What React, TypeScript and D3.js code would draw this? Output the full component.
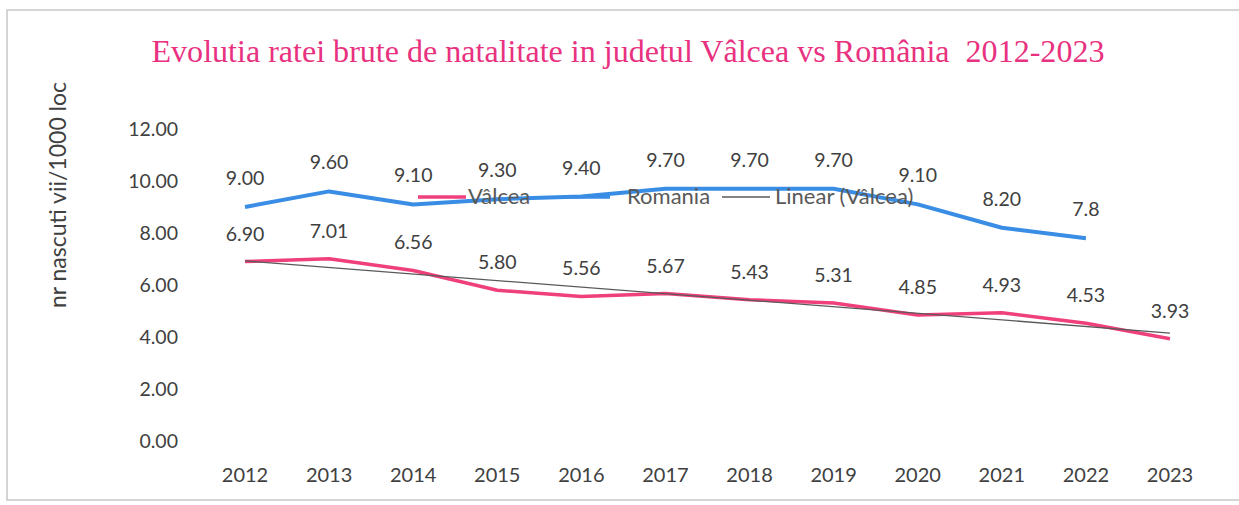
import React from "react";
import * as d3 from "d3";

const years = ["2012","2013","2014","2015","2016","2017","2018","2019","2020","2021","2022","2023"];
const valcea = [6.90, 7.01, 6.56, 5.80, 5.56, 5.67, 5.43, 5.31, 4.85, 4.93, 4.53, 3.93];
const romania: (number | null)[] = [9.00, 9.60, 9.10, 9.30, 9.40, 9.70, 9.70, 9.70, 9.10, 8.20, 7.8, null];
const romaniaLabels = ["9.00","9.60","9.10","9.30","9.40","9.70","9.70","9.70","9.10","8.20","7.8",""];
const yTicks = [0, 2, 4, 6, 8, 10, 12];

const W = 1239, H = 505;
const PINK = "#ef3f7c";
const BLUE = "#3a8de4";
const GRAY = "#5a5a5a";
const TXT = "#404040";
const FONT = "Lato, 'Open Sans', sans-serif";

export default function App() {
  const x = d3.scalePoint<string>().domain(years).range([245, 1170]).padding(0);
  const y = d3.scaleLinear().domain([0, 12]).range([441, 129]);

  const lineV = d3.line<number>().x((_, i) => x(years[i])!).y(d => y(d));
  const lineR = d3.line<number | null>()
    .defined(d => d != null)
    .x((_, i) => x(years[i])!)
    .y(d => y(d as number));

  // linear trend of Vâlcea (least squares)
  const idx = valcea.map((_, i) => i);
  const mx = d3.mean(idx)!;
  const my = d3.mean(valcea)!;
  const slope = d3.sum(idx, i => (i - mx) * (valcea[i] - my)) / d3.sum(idx, i => (i - mx) ** 2);
  const icpt = my - slope * mx;
  const trend = [0, years.length - 1].map(i => ({ x: x(years[i])!, y: y(icpt + slope * i) }));

  return (
    <svg width={W} height={H} style={{ position: "absolute", left: 0, top: 0, background: "#fff" }}>
      <rect x={0} y={0} width={W} height={H} fill="#fff" />
      <rect x={7} y={10} width={W + 5} height={490} fill="none" stroke="#c8c8c8" strokeWidth={1.5} />

      <text x={628} y={62} textAnchor="middle" fontFamily="'Liberation Serif', 'Times New Roman', serif"
        fontSize={31} fill="#e8317f" textLength={953} lengthAdjust="spacingAndGlyphs"
        style={{ whiteSpace: "pre" }}>
        {"Evolutia ratei brute de natalitate in judetul Vâlcea vs România  2012-2023"}
      </text>

      <text transform="translate(66,195) rotate(-90)" textAnchor="middle" fontFamily={FONT}
        fontSize={23} fill={TXT}>nr nascuti vii/1000 loc</text>

      {yTicks.map(t => (
        <text key={t} x={178} y={y(t) + 7} textAnchor="end" fontFamily={FONT} fontSize={19.5} fill={TXT}>
          {t.toFixed(2)}
        </text>
      ))}

      {years.map(yr => (
        <text key={yr} x={x(yr)!} y={482} textAnchor="middle" fontFamily={FONT} fontSize={20} fill={TXT}>
          {yr}
        </text>
      ))}

      <path d={lineR(romania) || ""} fill="none" stroke={BLUE} strokeWidth={4} strokeLinejoin="round" />
      <path d={lineV(valcea) || ""} fill="none" stroke={PINK} strokeWidth={3.5} strokeLinejoin="round" />
      <line x1={trend[0].x} y1={trend[0].y} x2={trend[1].x} y2={trend[1].y} stroke={GRAY} strokeWidth={1.3} />

      {romania.map((v, i) => v == null ? null : (
        <text key={"r" + i} x={x(years[i])!} y={y(v) - 22} textAnchor="middle" fontFamily={FONT} fontSize={19.5} fill={TXT}>
          {romaniaLabels[i]}
        </text>
      ))}
      {valcea.map((v, i) => (
        <text key={"v" + i} x={x(years[i])!} y={y(v) - 21} textAnchor="middle" fontFamily={FONT} fontSize={19.5} fill={TXT}>
          {v.toFixed(2)}
        </text>
      ))}

      <g fontFamily={FONT} fontSize={22} fill="#595959">
        <line x1={418} x2={466} y1={197} y2={197} stroke={PINK} strokeWidth={3.5} />
        <text x={468} y={204}>Vâlcea</text>
        <line x1={562} x2={610} y1={197} y2={197} stroke={BLUE} strokeWidth={3.5} />
        <text x={627} y={204}>Romania</text>
        <line x1={722} x2={770} y1={197} y2={197} stroke={GRAY} strokeWidth={1.3} />
        <text x={775} y={204}>Linear (Vâlcea)</text>
      </g>
    </svg>
  );
}
